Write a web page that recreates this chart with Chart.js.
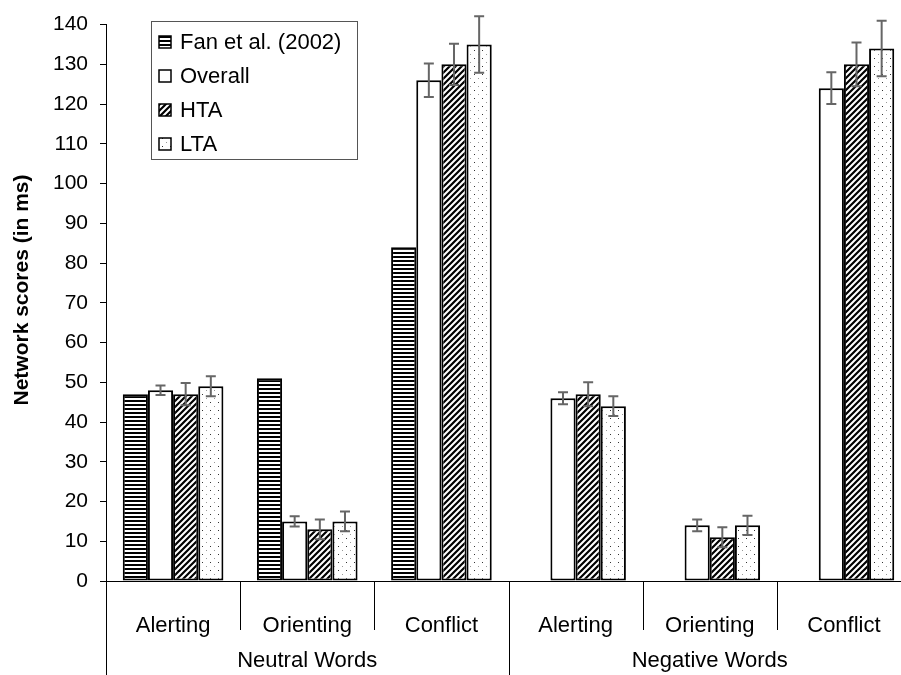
<!DOCTYPE html>
<html>
<head>
<meta charset="utf-8">
<script src="https://cdn.jsdelivr.net/npm/chart.js@4"></script>
<style>
  body { margin: 0; overflow: hidden; background: #fff; }
  #wrap { width: 912px; height: 675px; }
</style>
</head>
<body>
<div id="wrap"><canvas id="chart" width="912" height="675"></canvas></div>
<script>
// Data
const categories = ['Alerting', 'Orienting', 'Conflict', 'Alerting', 'Orienting', 'Conflict'];
const groups = ['Neutral Words', 'Negative Words'];
const seriesNames = ['Fan et al. (2002)', 'Overall', 'HTA', 'LTA'];
const fanValues = [47, 51, 84, null, null, null];
const overallValues = [48, 15, 126, 46, 14, 124];
const overallErrors = [1.2, 1.3, 4.2, 1.5, 1.5, 4];
const htaValues = [47, 13, 130, 47, 11, 130];
const htaErrors = [2.8, 2.5, 5.2, 3, 2.5, 5.5];
const ltaValues = [49, 15, 135, 44, 14, 134];
const ltaErrors = [2.5, 2.5, 7.1, 2.5, 2.4, 7];
const yMin = 0, yMax = 140, yStep = 10;
const yTitle = 'Network scores (in ms)';

const FONT = 'Liberation Sans, Arial, sans-serif';

// fill patterns like the old excel ones
function makePattern(kind) {
    const c = document.createElement('canvas');
    const ctx = c.getContext('2d');
    if (kind == 'hstripes') {
        c.width = 4; c.height = 4;
        ctx.fillStyle = '#fff'; ctx.fillRect(0, 0, 4, 4);
        ctx.fillStyle = '#000'; ctx.fillRect(0, 0, 4, 2);
    } else if (kind == 'diag') {
        c.width = 6; c.height = 6;
        ctx.fillStyle = '#fff'; ctx.fillRect(0, 0, 6, 6);
        ctx.strokeStyle = '#000'; ctx.lineWidth = 2.2;
        ctx.beginPath();
        ctx.moveTo(-1, 7); ctx.lineTo(7, -1);
        ctx.moveTo(-4, 4); ctx.lineTo(4, -4);
        ctx.moveTo(2, 10); ctx.lineTo(10, 2);
        ctx.stroke();
    } else if (kind == 'dots') {
        c.width = 8; c.height = 8;
        ctx.fillStyle = '#fff'; ctx.fillRect(0, 0, 8, 8);
        ctx.fillStyle = '#333'; ctx.fillRect(2, 2, 1, 1);
        ctx.fillStyle = '#999'; ctx.fillRect(6, 6, 1, 1);
    } else {
        c.width = 2; c.height = 2;
        ctx.fillStyle = '#fff'; ctx.fillRect(0, 0, 2, 2);
    }
    return ctx.createPattern(c, 'repeat');
}

const fills = [makePattern('hstripes'), makePattern('white'), makePattern('diag'), makePattern('dots')];
const errors = [null, overallErrors, htaErrors, ltaErrors];

const errorBars = {
    id: 'errorBars',
    afterDatasetsDraw(chart) {
        const ctx = chart.ctx;
        const y = chart.scales.y;
        ctx.save();
        ctx.strokeStyle = '#666';
        ctx.lineWidth = 2;
        chart.data.datasets.forEach((ds, di) => {
            const err = errors[di];
            if (!err) return;
            chart.getDatasetMeta(di).data.forEach((bar, i) => {
                if (ds.data[i] == null) return;
                const top = y.getPixelForValue(ds.data[i] + err[i]);
                const bot = y.getPixelForValue(ds.data[i] - err[i]);
                ctx.beginPath();
                ctx.moveTo(bar.x, top); ctx.lineTo(bar.x, bot);
                ctx.moveTo(bar.x - 5, top); ctx.lineTo(bar.x + 5, top);
                ctx.moveTo(bar.x - 5, bot); ctx.lineTo(bar.x + 5, bot);
                ctx.stroke();
            });
        });
        ctx.restore();
    }
};

const axisAndLegend = {
    id: 'axisAndLegend',
    afterDraw(chart) {
        const ctx = chart.ctx;
        const area = chart.chartArea;
        const step = (area.right - area.left) / categories.length;
        ctx.save();
        ctx.strokeStyle = '#000';
        ctx.lineWidth = 1;
        // separators under the axis
        ctx.beginPath();
        for (let i = 0; i <= categories.length; i++) {
            const px = Math.round(area.left + i * step) + 0.5;
            const long = (i % 3 == 0);
            ctx.moveTo(px, area.bottom);
            ctx.lineTo(px, long ? chart.height : area.bottom + 49);
        }
        ctx.stroke();
        // group labels
        ctx.fillStyle = '#000';
        ctx.font = '22px ' + FONT;
        ctx.textAlign = 'center';
        ctx.textBaseline = 'middle';
        groups.forEach((g, gi) => {
            const cx = area.left + (gi * 3 + 1.5) * step;
            ctx.fillText(g, cx, 661);
        });

        // y title, sits a bit above the middle like the original
        ctx.save();
        ctx.translate(22, 290);
        ctx.rotate(-Math.PI / 2);
        ctx.font = 'bold 21px ' + FONT;
        ctx.fillText(yTitle, 0, 0);
        ctx.restore();

        // legend box
        const lx = 151, ly = 21, lw = 206, lh = 138;
        ctx.fillStyle = '#fff';
        ctx.fillRect(lx, ly, lw, lh);
        ctx.strokeStyle = '#555';
        ctx.strokeRect(lx + 0.5, ly + 0.5, lw, lh);
        ctx.textAlign = 'left';
        seriesNames.forEach((name, i) => {
            const cy = 42 + i * 34;
            ctx.fillStyle = fills[i];
            ctx.fillRect(159, cy - 6, 12, 12);
            ctx.strokeStyle = '#000';
            ctx.lineWidth = 1.5;
            ctx.strokeRect(159, cy - 6, 12, 12);
            ctx.fillStyle = '#000';
            ctx.fillText(name, 180, cy + 1);
        });
        ctx.restore();
    }
};

const datasets = [fanValues, overallValues, htaValues, ltaValues].map((vals, i) => ({
    label: seriesNames[i],
    data: vals,
    backgroundColor: fills[i],
    borderColor: '#000',
    borderWidth: 2,
    borderSkipped: false,
    barPercentage: 1,
    categoryPercentage: 0.75
}));

new Chart(document.getElementById('chart'), {
    type: 'bar',
    data: { labels: categories, datasets: datasets },
    options: {
        responsive: false,
        animation: false,
        layout: { padding: { top: 19, right: 1, left: 0, bottom: 0 } },
        plugins: {
            legend: { display: false },
            tooltip: { enabled: false }
        },
        scales: {
            x: {
                grid: { display: false },
                border: { display: true, color: '#000', width: 1 },
                ticks: { color: '#000', padding: 24, font: { family: FONT, size: 22 }, maxRotation: 0 },
                afterFit: s => { s.height = 94; }
            },
            y: {
                min: yMin, max: yMax,
                ticks: { stepSize: yStep, color: '#000', padding: 12, font: { family: FONT, size: 21 } },
                grid: { drawOnChartArea: false, tickLength: 6, color: '#000' },
                border: { display: true, color: '#000', width: 1 },
                afterFit: s => { s.width = 106; }
            }
        }
    },
    plugins: [errorBars, axisAndLegend]
});
</script>
</body>
</html>
